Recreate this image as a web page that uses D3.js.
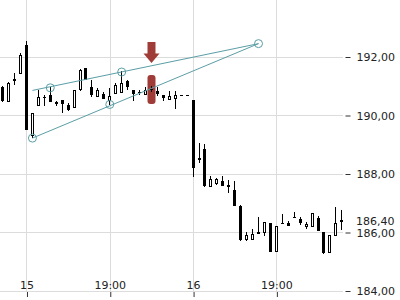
<!DOCTYPE html>
<html>
<head>
<meta charset="utf-8">
<script src="https://cdn.jsdelivr.net/npm/d3@7"></script>
<style>
  body { margin: 0; background: #fff; }
  svg { display: block; font-family: 'DejaVu Sans', sans-serif; }
</style>
</head>
<body>
<div id="chart-area"></div>
<script>
// candles, one per bar, index 0..57
const opens = [190.97,190.45,191.15,191.40,192.39,189.28,190.31,190.58,190.68,190.44,
  190.50,190.34,190.25,190.85,191.60,190.96,190.62,190.72,190.49,190.72,
  190.75,191.16,190.85,190.77,190.68,190.87,190.82,190.67,190.51,190.54,
  190.68,190.68,190.51,188.54,188.83,187.55,187.64,187.75,187.61,187.44,
  186.89,185.73,185.73,185.92,185.98,186.30,185.33,186.31,186.32,186.52,
  186.43,186.18,186.18,186.49,185.99,185.27,185.87,186.34]
const highs = [190.99,191.13,191.42,192.11,192.53,190.07,190.85,190.68,190.96,190.48,
  190.51,190.41,190.85,191.57,191.61,191.20,190.91,190.77,190.92,191.09,
  191.49,191.20,190.87,190.84,190.97,190.99,190.95,190.67,190.82,190.83,
  190.68,190.68,190.51,189.05,189.01,187.91,187.86,187.91,187.78,187.74,
  186.92,186.00,186.09,186.50,186.33,186.30,186.21,186.61,186.38,186.67,
  186.50,186.35,186.66,186.55,185.99,185.90,186.84,186.75]
const lows = [190.46,190.44,191.03,191.40,189.49,189.21,190.31,190.31,190.45,190.31,
  190.07,190.14,190.25,190.82,191.20,190.63,190.62,190.55,190.34,190.72,
  190.75,190.85,190.49,190.70,190.68,190.77,190.66,190.48,190.51,190.20,
  190.68,190.68,187.87,188.37,187.55,187.55,187.62,187.58,187.34,186.89,
  185.69,185.69,185.73,185.92,185.86,185.33,185.33,186.29,186.21,186.47,
  186.24,186.09,186.18,186.04,185.25,185.27,185.87,186.07]
const closes = [190.49,191.10,191.23,192.05,189.49,190.07,190.60,190.60,190.45,190.36,
  190.39,190.17,190.85,191.54,191.21,190.68,190.85,190.55,190.66,191.03,
  191.08,190.96,190.72,190.79,190.87,190.89,190.71,190.59,190.65,190.68,
  190.68,190.68,188.20,188.46,187.58,187.80,187.80,187.58,187.53,186.89,
  185.73,185.90,185.92,185.99,186.33,185.33,186.21,186.30,186.21,186.47,
  186.30,186.26,186.64,186.04,185.27,185.90,186.31,186.40]

const xTickIdx = [4, 18, 32, 46]
const xTickLabels = ['15', '19:00', '16', '19:00']
const yTicks = [184, 186, 188, 190, 192]
const lastPrice = 186.40

// wedge drawing: [index, price]
const upperLine = [[5, 190.84], [43, 192.44]]
const lowerLine = [[5, 189.21], [43, 192.44]]
const anchors = [[5, 189.21], [8, 190.93], [18, 190.36], [20, 191.47], [43, 192.44]]

// signal marker
const signalIdx = 25
const signalRange = [191.37, 190.38]

const PLOT_W = 343

const x = d3.scaleLinear().domain([-0.45, 57.2]).range([0, PLOT_W])
const y = d3.scaleLinear().domain([184, 192]).range([290.5, 56.5])

const svg = d3.select('#chart-area').append('svg')
  .attr('width', 400)
  .attr('height', 300)

const fmt = d => d3.format('.2f')(d).replace('.', ',')

// GRID
const grid = svg.append('g').attr('stroke', '#dcdcdc').attr('stroke-width', 1)
grid.selectAll('.hg').data(yTicks).enter().append('line')
  .attr('x1', 0).attr('x2', PLOT_W)
  .attr('y1', d => Math.round(y(d)) + 0.5)
  .attr('y2', d => Math.round(y(d)) + 0.5)
grid.selectAll('.vg').data(xTickIdx).enter().append('line')
  .attr('x1', d => Math.round(x(d)) + 0.5)
  .attr('x2', d => Math.round(x(d)) + 0.5)
  .attr('y1', 0).attr('y2', Math.round(y(184)))

// AXES
const yAxis = d3.axisRight(y)
  .tickValues(yTicks)
  .tickSize(5)
  .tickPadding(6)
  .tickFormat(fmt)
const yg = svg.append('g')
  .attr('transform', `translate(345.5, 0.5)`)
  .call(yAxis)
yg.select('.domain').remove()
yg.selectAll('text').attr('font-size', 11).attr('font-family', "'DejaVu Sans', sans-serif").attr('fill', '#222')
yg.selectAll('line').attr('stroke', '#333')

svg.append('text')
  .attr('x', 356)
  .attr('y', y(lastPrice) + 1)
  .attr('dy', '0.32em')
  .attr('font-size', 11)
  .attr('fill', '#222')
  .text(fmt(lastPrice))

const xAxis = d3.axisBottom(x)
  .tickValues(xTickIdx)
  .tickSize(5)
  .tickFormat('')
const xg = svg.append('g')
  .attr('transform', `translate(0.5, 292)`)
  .call(xAxis)
xg.select('.domain').remove()
xg.selectAll('line').attr('stroke', '#333')

svg.selectAll('.xlab').data(xTickIdx).enter().append('text')
  .attr('x', d => x(d) + 0.5)
  .attr('y', 289)
  .attr('text-anchor', 'middle')
  .attr('font-size', 11)
  .attr('fill', '#222')
  .text((d, i) => xTickLabels[i])

// SIGNAL HIGHLIGHT
const sx = Math.round(x(signalIdx))
svg.append('rect')
  .attr('x', sx - 3.5)
  .attr('y', y(signalRange[0]))
  .attr('width', 8)
  .attr('height', y(signalRange[1]) - y(signalRange[0]))
  .attr('rx', 3)
  .attr('fill', '#a03c37')

const tip = y(signalRange[0]) - 12
svg.append('path')
  .attr('d', `M${sx - 3.5},${tip - 21} L${sx + 4.5},${tip - 21} L${sx + 4.5},${tip - 9.5}
    L${sx + 8.5},${tip - 9.5} L${sx + 0.5},${tip} L${sx - 7.5},${tip - 9.5} L${sx - 3.5},${tip - 9.5} Z`)
  .attr('fill', '#a03c37')

// CANDLES
const candles = svg.append('g')
opens.forEach((o, i) => {
  const c = closes[i]
  const left = Math.round(x(i) - 1.5)
  const cx = left + 1.5
  const up = c >= o
  const top = Math.round(y(Math.max(o, c)))
  const bot = Math.round(y(Math.min(o, c)))

  candles.append('line')
    .attr('x1', cx).attr('x2', cx)
    .attr('y1', Math.round(y(highs[i])))
    .attr('y2', Math.round(y(lows[i])))
    .attr('stroke', '#000')

  if (bot - top < 2) {
    candles.append('rect')
      .attr('x', left).attr('y', top)
      .attr('width', 3).attr('height', Math.max(1, bot - top))
      .attr('fill', '#000')
  } else if (up) {
    candles.append('rect')
      .attr('x', left + 0.5).attr('y', top + 0.5)
      .attr('width', 2).attr('height', bot - top - 1)
      .attr('fill', '#fff')
      .attr('stroke', '#000')
  } else {
    candles.append('rect')
      .attr('x', left).attr('y', top)
      .attr('width', 3).attr('height', bot - top)
      .attr('fill', '#000')
  }
})

// WEDGE LINES
const line = d3.line().x(d => x(d[0])).y(d => y(d[1]))
const teal = '#5b9ea6'
svg.append('path').attr('d', line(upperLine))
  .attr('fill', 'none').attr('stroke', teal).attr('stroke-width', 1)
svg.append('path').attr('d', line(lowerLine))
  .attr('fill', 'none').attr('stroke', teal).attr('stroke-width', 1)
svg.selectAll('.anchor').data(anchors).enter().append('circle')
  .attr('cx', d => x(d[0]))
  .attr('cy', d => y(d[1]))
  .attr('r', 4)
  .attr('fill', 'none')
  .attr('stroke', teal)
  .attr('stroke-width', 1)
</script>
</body>
</html>
